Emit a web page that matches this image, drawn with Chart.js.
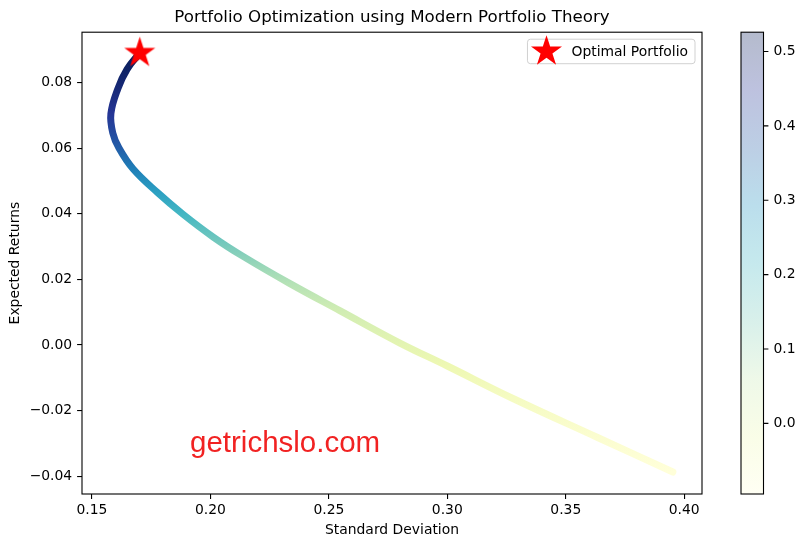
<!DOCTYPE html>
<html><head><meta charset="utf-8">
<script src="https://cdn.jsdelivr.net/npm/chart.js@4.4.0/dist/chart.umd.min.js"></script>
<style>html,body{margin:0;padding:0;background:#fff;overflow:hidden}canvas{display:block}</style>
</head><body>
<canvas id="c" width="805" height="547"></canvas>
<script>
// ---- data ----
const stdDev     = [0.1702, 0.1648, 0.1610, 0.1580, 0.1588, 0.1614, 0.1674, 0.1776, 0.1885, 0.2012, 0.2138, 0.2336, 0.2548, 0.2800, 0.3000, 0.3277, 0.3632, 0.3952];
const expReturns = [0.0890, 0.0840, 0.0782, 0.0705, 0.0646, 0.0600, 0.0536, 0.0465, 0.0398, 0.0329, 0.0270, 0.0187, 0.0104, 0.0006, -0.0064, -0.0163, -0.0281, -0.0387];
const optimalStd = [0.1702];
const optimalReturn = [0.0890];
const xTicks = [0.15, 0.20, 0.25, 0.30, 0.35, 0.40];
const yTicks = [-0.04, -0.02, 0.00, 0.02, 0.04, 0.06, 0.08];
const cbTicks = [0.0, 0.1, 0.2, 0.3, 0.4, 0.5];
const xRange = [0.1458, 0.4075];
const yRange = [-0.0454, 0.0953];
const cbRange = [-0.095, 0.526];
const titleText = 'Portfolio Optimization using Modern Portfolio Theory';
const xLabel = 'Standard Deviation';
const yLabel = 'Expected Returns';
const legendLabel = 'Optimal Portfolio';
const watermarkText = 'getrichslo.com';

// Sharpe ratio (colour value) of each frontier point
const sharpe = expReturns.map((r, i) => r / stdDev[i]);

// YlGnBu colormap
const YLGNBU = [[255,255,217],[237,248,177],[199,233,180],[127,205,187],[65,182,196],[29,145,192],[34,94,168],[37,52,148],[8,29,88]];
function cmap(t, a) {
  t = Math.max(0, Math.min(1, t));
  const p = t * (YLGNBU.length - 1);
  const i = Math.min(YLGNBU.length - 2, Math.floor(p));
  const f = p - i;
  const c = YLGNBU[i].map((v, k) => Math.round(v + (YLGNBU[i+1][k] - v) * f));
  return `rgba(${c[0]},${c[1]},${c[2]},${a === undefined ? 1 : a})`;
}
const norm = v => (v - cbRange[0]) / (cbRange[1] - cbRange[0]);

// filled five-point star marker (matplotlib '*')
function makeStar(R) {
  const s = Math.ceil(2 * R + 2);
  const c = document.createElement('canvas');
  c.width = s; c.height = s;
  const g = c.getContext('2d');
  g.translate(s / 2, s / 2);
  g.beginPath();
  const r = R * 0.381966;
  for (let i = 0; i < 10; i++) {
    const a = -Math.PI / 2 + i * Math.PI / 5;
    const rad = i % 2 ? r : R;
    g.lineTo(rad * Math.cos(a), rad * Math.sin(a));
  }
  g.closePath();
  g.fillStyle = '#ff0000';
  g.fill();
  return c;
}
const starImg = makeStar(16.3);

const FONT = "'DejaVu Sans', sans-serif";
const FS = 13.9;

function lineGradient(chart) {
  const ca = chart.chartArea;
  if (!ca) return cmap(0.5);
  const ys = chart.scales.y;
  const g = chart.ctx.createLinearGradient(0, ca.bottom, 0, ca.top);
  const stops = expReturns.map((r, i) => ({
    pos: (ca.bottom - ys.getPixelForValue(r)) / (ca.bottom - ca.top),
    col: cmap(norm(sharpe[i]))
  })).sort((a, b) => a.pos - b.pos);
  stops.forEach(s => g.addColorStop(Math.max(0, Math.min(1, s.pos)), s.col));
  return g;
}

const extras = {
  id: 'extras',
  afterDraw(chart) {
    const ctx = chart.ctx, ca = chart.chartArea;
    ctx.save();
    // frame
    ctx.strokeStyle = '#000';
    ctx.lineWidth = 1.1;
    ctx.strokeRect(ca.left, ca.top, ca.right - ca.left, ca.bottom - ca.top);

    // colorbar
    const cbL = ca.right + 39, cbW = 22.5;
    const cs = chart.scales.cb;
    const g = ctx.createLinearGradient(0, ca.bottom, 0, ca.top);
    for (let k = 0; k <= 16; k++) g.addColorStop(k / 16, cmap(k / 16, 0.3));
    ctx.fillStyle = g;
    ctx.fillRect(cbL, ca.top, cbW, ca.bottom - ca.top);
    ctx.strokeRect(cbL, ca.top, cbW, ca.bottom - ca.top);
    ctx.beginPath();
    cbTicks.forEach(v => {
      const y = cs.getPixelForValue(v);
      ctx.moveTo(cbL + cbW, y);
      ctx.lineTo(cbL + cbW + 4.9, y);
    });
    ctx.stroke();

    // watermark
    ctx.fillStyle = 'rgba(240,10,10,0.9)';
    ctx.font = "29.5px 'Liberation Sans', Arial, sans-serif";
    ctx.textBaseline = 'alphabetic';
    ctx.textAlign = 'left';
    ctx.fillText(watermarkText, 190, 451.5);

    // legend
    ctx.font = `${FS}px ${FONT}`;
    const tw = ctx.measureText(legendLabel).width;
    const lw = 44 + tw + 7, lh = 24.5;
    const lx = ca.right - 7 - lw, ly = ca.top + 7;
    ctx.beginPath();
    if (ctx.roundRect) ctx.roundRect(lx, ly, lw, lh, 3); else ctx.rect(lx, ly, lw, lh);
    ctx.fillStyle = 'rgba(255,255,255,0.8)';
    ctx.fill();
    ctx.strokeStyle = 'rgba(204,204,204,0.9)';
    ctx.lineWidth = 1;
    ctx.stroke();
    ctx.drawImage(starImg, lx + 19 - starImg.width / 2, ly + lh / 2 - starImg.height / 2);
    ctx.fillStyle = '#000';
    ctx.textBaseline = 'middle';
    ctx.fillText(legendLabel, lx + 44, ly + lh / 2 + 0.5);
    ctx.restore();
  }
};

const tickFont = { family: FONT, size: FS };

new Chart(document.getElementById('c'), {
  type: 'scatter',
  data: {
    datasets: [
      {
        label: legendLabel,
        data: optimalStd.map((s, i) => ({ x: s, y: optimalReturn[i] })),
        pointStyle: starImg,
        pointRadius: 16,
        order: 0
      },
      {
        label: 'Frontier',
        data: stdDev.map((s, i) => ({ x: s, y: expReturns[i] })),
        showLine: true,
        tension: 0.4,
        borderWidth: 7,
        borderCapStyle: 'round',
        borderJoinStyle: 'round',
        pointRadius: 0,
        borderColor: c => lineGradient(c.chart),
        order: 1
      }
    ]
  },
  options: {
    responsive: false,
    animation: false,
    events: [],
    layout: { padding: 0 },
    plugins: {
      legend: { display: false },
      tooltip: { enabled: false },
      title: {
        display: true,
        text: titleText,
        fullSize: false,
        color: '#000',
        font: { family: FONT, size: 16.67, weight: 'normal' },
        padding: { top: 8, bottom: 4.2 }
      }
    },
    scales: {
      x: {
        type: 'linear',
        position: 'bottom',
        min: xRange[0], max: xRange[1],
        afterBuildTicks: s => { s.ticks = xTicks.map(v => ({ value: v })); },
        afterFit: s => { s.height = 53; },
        ticks: { font: tickFont, color: '#000', padding: 3.6, maxRotation: 0, callback: v => v.toFixed(2) },
        grid: { display: true, drawOnChartArea: false, drawTicks: true, tickLength: 4.9, color: '#000', lineWidth: 1.1 },
        border: { display: false },
        title: { display: true, text: xLabel, color: '#000', font: tickFont, padding: { top: 0, bottom: 8.6 } }
      },
      y: {
        type: 'linear',
        position: 'left',
        min: yRange[0], max: yRange[1],
        afterBuildTicks: s => { s.ticks = yTicks.map(v => ({ value: v })); },
        afterFit: s => { s.width = 82; },
        ticks: { font: tickFont, color: '#000', padding: 4.9, callback: v => (Math.abs(v) < 1e-9 ? 0 : v).toFixed(2).replace('-', '\u2212') },
        grid: { display: true, drawOnChartArea: false, drawTicks: true, tickLength: 4.9, color: '#000', lineWidth: 1.1 },
        border: { display: false },
        title: { display: true, text: yLabel, color: '#000', font: tickFont, padding: { top: 6.7, bottom: 0 } }
      },
      cb: {
        type: 'linear',
        position: 'right',
        min: cbRange[0], max: cbRange[1],
        afterBuildTicks: s => { s.ticks = cbTicks.map(v => ({ value: v })); },
        afterFit: s => { s.width = 103; },
        ticks: { font: tickFont, color: '#000', padding: 5, callback: v => v.toFixed(1) },
        grid: { display: true, drawOnChartArea: false, drawTicks: true, tickLength: 66.5, color: 'rgba(0,0,0,0)' },
        border: { display: false }
      }
    }
  },
  plugins: [extras]
});
</script>
</body></html>
